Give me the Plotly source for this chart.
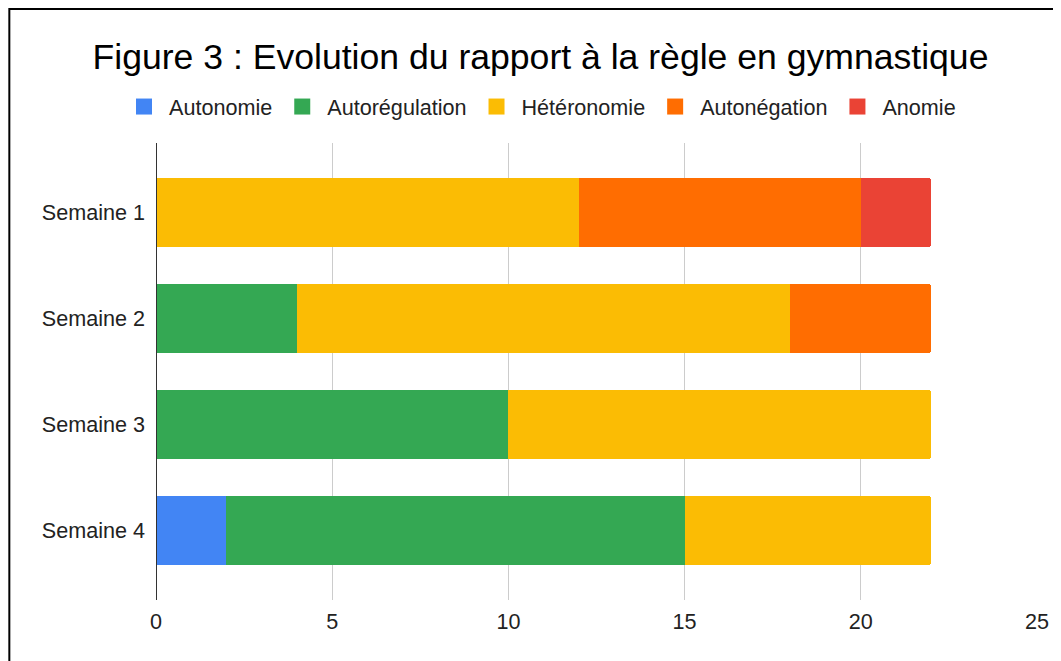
import plotly.graph_objects as go

semaines = ['Semaine 1', 'Semaine 2', 'Semaine 3', 'Semaine 4']
autonomie = [0, 0, 0, 2]
autoregulation = [0, 4, 10, 13]
heteronomie = [12, 14, 12, 7]
autonegation = [8, 4, 0, 0]
anomie = [2, 0, 0, 0]

series = [
    ('Autonomie', autonomie, '#4285F4'),
    ('Autorégulation', autoregulation, '#34A853'),
    ('Hétéronomie', heteronomie, '#FBBC04'),
    ('Autonégation', autonegation, '#FF6D01'),
    ('Anomie', anomie, '#EA4335'),
]

FONT = 'Liberation Sans, Arial, sans-serif'
W, H = 1053, 653  # la page ajoute une marge de 8 px

fig = go.Figure()
for nom, valeurs, couleur in series:
    fig.add_trace(go.Bar(
        y=semaines,
        x=valeurs,
        name=nom,
        orientation='h',
        marker=dict(color=couleur, line=dict(width=0)),
        showlegend=False,
    ))

# entrées de légende avec des carrés plus grands
for nom, valeurs, couleur in series:
    fig.add_trace(go.Scatter(
        x=[None], y=[None],
        mode='markers',
        name=nom,
        legendgroup=nom,
        marker=dict(symbol='square', size=16, color=couleur),
        hoverinfo='skip',
    ))

fig.update_layout(
    title=dict(
        text='Figure 3 : Evolution du rapport à la règle en gymnastique',
        x=532.5 / W, xref='container', xanchor='center',
        y=1 - 49 / H, yref='container', yanchor='middle',
        font=dict(family=FONT, size=35.6, color='#000000'),
    ),
    barmode='stack',
    bargap=0.35,
    barcornerradius=3,
    width=W,
    height=H,
    margin=dict(l=148, r=22, t=135, b=61),
    paper_bgcolor='white',
    plot_bgcolor='white',
    font=dict(family=FONT, size=21.6, color='#222222'),
    legend=dict(
        orientation='h',
        x=532 / W, xref='container', xanchor='center',
        y=1 - 99 / H, yref='container', yanchor='middle',
        font=dict(family=FONT, size=21.6, color='#222222'),
        traceorder='normal',
        itemwidth=40,
        tracegroupgap=7,
    ),
    showlegend=True,
)

fig.update_xaxes(
    range=[0, 25],
    tickvals=[0, 5, 10, 15, 20, 25],
    showgrid=True,
    gridcolor='#cccccc',
    gridwidth=1,
    zeroline=False,
    showline=False,
    ticks='',
    ticklabelstandoff=6,
    tickfont=dict(family=FONT, size=21.6, color='#222222'),
)

fig.update_yaxes(
    range=[3.655, -0.655],
    showgrid=False,
    zeroline=False,
    showline=False,
    ticks='',
    ticklabelstandoff=10,
    tickfont=dict(family=FONT, size=21.6, color='#222222'),
)

# axe vertical foncé à x = 0
fig.add_shape(type='line', xref='x', yref='paper', x0=0, x1=0, y0=0, y1=1,
              line=dict(color='#333333', width=2), layer='above')

# cadre noir autour du graphique
fig.add_shape(type='rect', xref='paper', yref='paper',
              x0=(1 - 148) / 883, x1=(1100 - 148) / 883,
              y0=(592 - 700) / 457, y1=(592 - 1) / 457,
              line=dict(color='#000000', width=2), fillcolor='rgba(0,0,0,0)')

fig.write_html('out.html')
